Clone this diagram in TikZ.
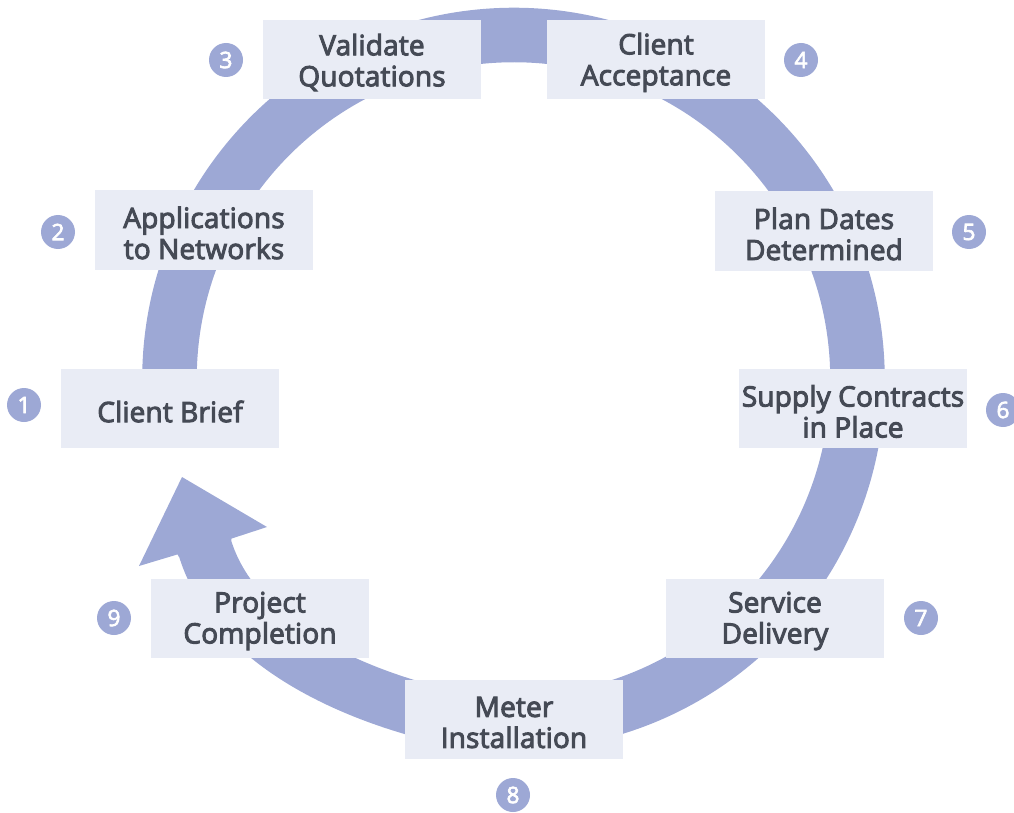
\documentclass[tikz,border=0pt]{standalone}
\usepackage{fontspec}
\setmainfont{Open Sans}
\newfontfamily\semibold{Open Sans}[FakeBold=3.5,LetterSpace=0.6]
\newfontfamily\numfont{Open Sans}[FakeBold=3]
\definecolor{ringcol}{HTML}{9DA8D5}
\definecolor{boxfill}{HTML}{E9ECF5}
\definecolor{textcol}{HTML}{454A55}
\begin{document}
\begin{tikzpicture}[x=0.75pt,y=0.75pt,yscale=-1,
  box/.style={fill=boxfill, inner sep=0pt,
    minimum width=163.5pt, minimum height=59.25pt},
  txt/.style={text=textcol, align=center, inner sep=0pt,
    font=\semibold\fontsize{21}{23.25}\selectfont},
  num/.style={circle, fill=ringcol, text=white, minimum size=25.5pt, inner sep=0pt,
    font=\numfont\fontsize{17}{17}\selectfont}]
\useasboundingbox (0,0) rectangle (1014,813);
\coordinate (c) at (513.5,379);
\coordinate (shaftend) at (204.5,546.5);
% ring
\draw[ringcol, line width=40.9pt] (c) ++(175:344) arc[start angle=175, end angle=465, radius=344]
  .. controls (334.7,687.2) and (230.7,635.7) .. (shaftend);
% arrow head
\coordinate (tip) at (182,477);
\coordinate (hr) at (267,527);
\coordinate (hl) at (139,566);
\fill[ringcol] (tip) -- (hr) -- (231.5,538.6) -- (231,541) -- (179,557) -- (177.6,554.4) -- (hl) -- cycle;
% boxes
\node[box] (b1) at (170,408.5) {};
\node[box] (b2) at (204,230) {};
\node[box] (b3) at (372,59.5) {};
\node[box] (b4) at (656,59.5) {};
\node[box] (b5) at (824,231) {};
\node[box, minimum width=171pt] (b6) at (853,408.5) {};
\node[box] (b7) at (775,618) {};
\node[box] (b8) at (514,719.5) {};
\node[box] (b9) at (260,618) {};
% texts
\node[txt] (t1) at (170,411.5) {Client Brief};
\node[txt] (t2) at (204,233) {Applications\\to Networks};
\node[txt] (t3) at (372,62.5) {Validate\\Quotations};
\node[txt] (t4) at (656,62.5) {Client\\Acceptance};
\node[txt] (t5) at (824,234) {Plan Dates\\Determined};
\node[txt] (t6) at (853,411.5) {Supply Contracts\\in Place};
\node[txt] (t7) at (775,621) {Service\\Delivery};
\node[txt] (t8) at (514,722.5) {Meter\\Installation};
\node[txt] (t9) at (260,621) {Project\\Completion};
% numbers
\node[num] (n1) at (24,405) {1};
\node[num] (n2) at (58,232) {2};
\node[num] (n3) at (226,60) {3};
\node[num] (n4) at (801,60) {4};
\node[num] (n5) at (969,232) {5};
\node[num] (n6) at (1003,410) {6};
\node[num] (n7) at (921,618) {7};
\node[num] (n8) at (513,795) {8};
\node[num] (n9) at (114,618) {9};
\end{tikzpicture}
\end{document}
